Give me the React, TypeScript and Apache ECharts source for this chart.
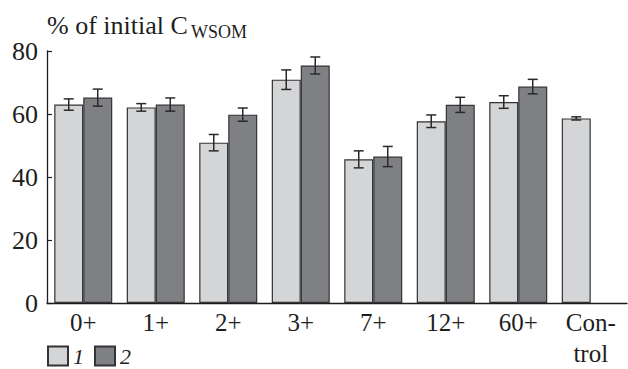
import React, { useEffect, useRef } from "react";
import * as echarts from "echarts";

const categories = ["0+", "1+", "2+", "3+", "7+", "12+", "60+", "Con-\ntrol"];
const series1 = [63.0, 62.1, 50.9, 70.9, 45.6, 57.7, 63.8, 58.6];
const series2: (number | null)[] = [65.2, 63.0, 59.8, 75.4, 46.5, 62.9, 68.7, null];
const err1 = [1.8, 1.2, 2.6, 3.1, 2.7, 2.0, 2.0, 0.5];
const err2: (number | null)[] = [2.7, 2.1, 2.1, 2.7, 3.2, 2.4, 2.3, null];
const yTicks = [0, 20, 40, 60, 80];

const FONT = "Liberation Serif";
const INK = "#1e1e1e";

export default function App() {
  const ref = useRef<HTMLDivElement>(null);
  useEffect(() => {
    if (!ref.current) return;
    const chart = echarts.init(ref.current, undefined, { renderer: "svg" });

    const errRender = (sign: number) => (params: any, api: any) => {
      const i = api.value(0);
      const v = api.value(1);
      const e = api.value(2);
      const band = api.size([1, 0])[0];
      const c = api.coord([i, v]);
      const x = c[0] + sign * band * 0.2;
      const yTop = api.coord([i, v + e])[1];
      const yBot = api.coord([i, v - e])[1];
      const cap = 5;
      const style = { stroke: "#2a2a2a", lineWidth: 1.5 };
      return {
        type: "group",
        children: [
          { type: "line", shape: { x1: x, y1: yTop, x2: x, y2: yBot }, style },
          { type: "line", shape: { x1: x - cap, y1: yTop, x2: x + cap, y2: yTop }, style },
          { type: "line", shape: { x1: x - cap, y1: yBot, x2: x + cap, y2: yBot }, style },
        ],
      };
    };

    const errData = (vals: (number | null)[], errs: (number | null)[]) =>
      vals
        .map((v, i) => (v == null || errs[i] == null ? null : [i, v, errs[i]]))
        .filter((d) => d != null);

    chart.setOption({
      animation: false,
      textStyle: { fontFamily: FONT },
      grid: { left: 47, right: 1, top: 51, bottom: 62, containLabel: false },
      legend: {
        data: ["1", "2"],
        left: 47,
        top: 345,
        padding: 0,
        itemWidth: 20,
        itemHeight: 19,
        itemGap: 10,
        icon: "rect",
        textStyle: { fontFamily: FONT, fontSize: 22, lineHeight: 19, fontStyle: "italic", color: INK },
      },
      xAxis: {
        type: "category",
        data: categories,
        axisLine: { lineStyle: { color: INK, width: 1.3 } },
        axisTick: { inside: true, length: 5, alignWithLabel: false, lineStyle: { color: INK, width: 1.2 } },
        axisLabel: { fontFamily: FONT, fontSize: 25, color: INK, margin: 4, lineHeight: 31, interval: 0 },
        splitLine: { show: false },
      },
      yAxis: {
        type: "value",
        min: yTicks[0],
        max: yTicks[yTicks.length - 1],
        interval: 20,
        axisLine: { show: true, lineStyle: { color: INK, width: 1.3 } },
        axisTick: { show: true, inside: true, length: 5, lineStyle: { color: INK, width: 1.2 } },
        axisLabel: { fontFamily: FONT, fontSize: 26, color: INK, margin: 9 },
        splitLine: { show: false },
      },
      graphic: [
        {
          type: "text",
          x: 47,
          y: 25,
          style: { text: "% of initial C", fontFamily: FONT, fontSize: 26, fill: INK, verticalAlign: "middle", align: "left" },
        },
        {
          type: "text",
          x: 191,
          y: 31.5,
          style: { text: "WSOM", fontFamily: FONT, fontSize: 18, fill: INK, verticalAlign: "middle", align: "left" },
        },
      ],
      series: [
        {
          name: "1",
          type: "bar",
          data: series1,
          barWidth: "40%",
          barGap: "0%",
          itemStyle: { color: "#d4d5d7", borderColor: "#333333", borderWidth: 1.2 },
        },
        {
          name: "2",
          type: "bar",
          data: series2,
          barWidth: "40%",
          barGap: "0%",
          itemStyle: { color: "#7f8084", borderColor: "#333333", borderWidth: 1.2 },
        },
        {
          name: "err1",
          type: "custom",
          data: errData(series1, err1),
          encode: { x: 0, y: 1 },
          renderItem: errRender(-1),
          silent: true,
          z: 5,
        },
        {
          name: "err2",
          type: "custom",
          data: errData(series2, err2),
          encode: { x: 0, y: 1 },
          renderItem: errRender(1),
          silent: true,
          z: 5,
        },
      ],
    });
    return () => chart.dispose();
  }, []);
  return (
    <div
      ref={ref}
      style={{ position: "fixed", left: 0, top: 0, width: 628, height: 369, background: "#fff" }}
    />
  );
}
